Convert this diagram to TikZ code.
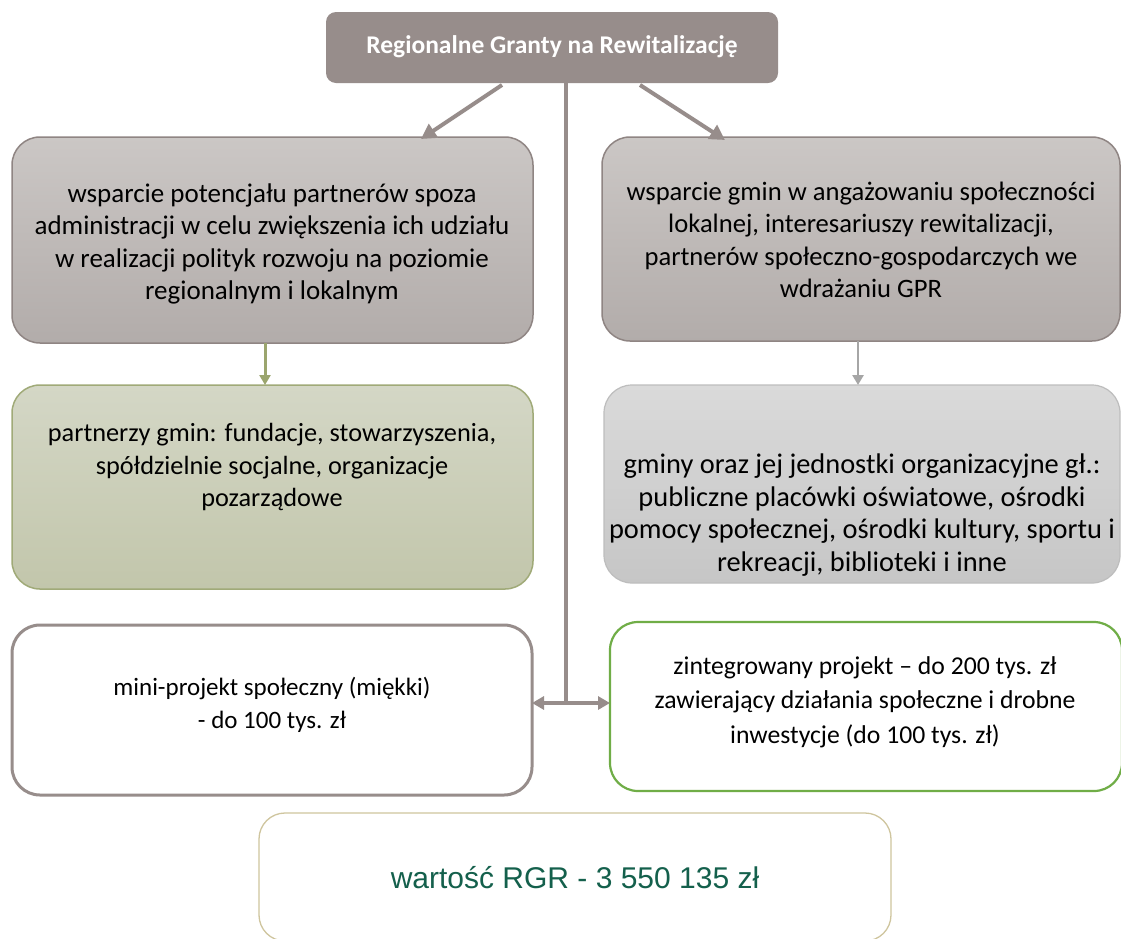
\documentclass[tikz,border=0pt]{standalone}
\usepackage{fontspec}
\setmainfont{Carlito}
\newfontfamily\valfont{Liberation Sans}
\usetikzlibrary{arrows.meta,calc}
\definecolor{topfill}{HTML}{978D8B}
\definecolor{grayedge}{HTML}{8F8583}
\definecolor{graytop}{HTML}{CBC7C5}
\definecolor{graybot}{HTML}{B2ACAA}
\definecolor{greentop}{HTML}{D4D7C6}
\definecolor{greenbot}{HTML}{C2C6AB}
\definecolor{greenedge}{HTML}{A0AA78}
\definecolor{lgtop}{HTML}{DADADA}
\definecolor{lgbot}{HTML}{C6C6C6}
\definecolor{lgedge}{HTML}{BDBDBD}
\definecolor{brightgreen}{HTML}{70AD47}
\definecolor{tanedge}{HTML}{CFC59E}
\definecolor{valgreen}{HTML}{14604C}
\definecolor{arrowgray}{HTML}{978D8B}
\definecolor{arrowolive}{HTML}{9BA56E}
\definecolor{arrowlight}{HTML}{A6A6A6}
\begin{document}
\begin{tikzpicture}[x=1pt,y=-1pt,
  shapebox/.style={rectangle,rounded corners=28pt,inner sep=0pt,outer sep=0pt},
  graybox/.style={shapebox,draw=grayedge,line width=1.5pt,top color=graytop,bottom color=graybot},
  greenbox/.style={shapebox,draw=greenedge,line width=1.5pt,top color=greentop,bottom color=greenbot},
  lightbox/.style={shapebox,draw=lgedge,line width=1.2pt,top color=lgtop,bottom color=lgbot},
  minibox/.style={shapebox,draw=arrowgray,line width=3pt,fill=white},
  intbox/.style={shapebox,draw=brightgreen,line width=2.2pt,fill=white},
  valbox/.style={shapebox,draw=tanedge,line width=1.3pt,fill=white,rounded corners=26pt},
  bodytext/.style={align=center,inner sep=0pt,font=\fontsize{#1}{32.5}\selectfont},
  bodytext/.default=27,
  mainarrow/.style={draw=arrowgray,line width=4pt,-{Triangle[length=15pt,width=16pt]}},
  dblarrow/.style={draw=arrowgray,line width=4pt,{Triangle[length=12pt,width=13pt]}-{Triangle[length=12pt,width=13pt]}},
  olivearrow/.style={draw=arrowolive,line width=3pt,-{Triangle[length=10pt,width=11pt]}},
  lightarrow/.style={draw=arrowlight,line width=2.5pt,-{Triangle[length=10pt,width=11pt]}}
]
\clip (0,0) rectangle (1121,938);
\fill[white] (0,0) rectangle (1121,938);

% boxes
\node[shapebox,fill=topfill,rounded corners=10pt,minimum width=452pt,minimum height=71pt] (top) at (552,47.5) {};
\node[graybox,minimum width=521pt,minimum height=206pt] (b1) at (272.5,240) {};
\node[graybox,minimum width=518pt,minimum height=204pt] (b2) at (861,239) {};
\node[greenbox,minimum width=521pt,minimum height=204pt] (g1) at (272.5,487) {};
\node[lightbox,minimum width=516pt,minimum height=198pt] (g2) at (862,484) {};
\node[minibox,minimum width=520pt,minimum height=170pt] (m1) at (272,710) {};
\node[intbox,minimum width=512pt,minimum height=169pt] (m2) at (866,706.5) {};
\node[valbox,minimum width=632pt,minimum height=128pt] (v) at (575,877) {};

% texts
\node[inner sep=0pt,text=white,font=\fontsize{25.5}{30}\selectfont\bfseries] (ttop) at (552,47) {Regionalne Granty na Rewitalizację};
\node[bodytext=27] (tb1) at (272,244) {wsparcie potencjału partnerów spoza\\administracji w celu zwiększenia ich udziału\\w realizacji polityk rozwoju na poziomie\\regionalnym i lokalnym};
\node[bodytext=26.6] (tb2) at (861,240) {wsparcie gmin w angażowaniu społeczności\\lokalnej, interesariuszy rewitalizacji,\\partnerów społeczno-gospodarczych we\\wdrażaniu GPR};
\node[bodytext=26.3] (tg1) at (272,467) {partnerzy gmin: fundacje, stowarzyszenia,\\spółdzielnie socjalne, organizacje\\pozarządowe};
\node[bodytext=28.4] (tg2) at (862,515) {gminy oraz jej jednostki organizacyjne gł.:\\publiczne placówki oświatowe, ośrodki\\pomocy społecznej, ośrodki kultury, sportu i\\rekreacji, biblioteki i inne};
\node[bodytext=25] (tm1) at (272,705) {mini-projekt społeczny (miękki)\\- do 100 tys. zł};
\node[align=center,inner sep=0pt,font=\fontsize{25.7}{34.5}\selectfont] (tm2) at (865,702) {zintegrowany projekt – do 200 tys. zł\\zawierający działania społeczne i drobne\\inwestycje (do 100 tys. zł)};
\node[inner sep=0pt,text=valgreen,font=\valfont\fontsize{30}{34}\selectfont] (tv) at (575,878) {wartość RGR - 3 550 135 zł};

% connectors
\draw[mainarrow] ([xshift=-50pt,yshift=-2pt]top.south) -- ([xshift=148.5pt,yshift=-2pt]b1.north);
\draw[mainarrow] ([xshift=88pt,yshift=-2pt]top.south) -- ([xshift=-136pt,yshift=-3pt]b2.north);
\coordinate (j) at (566,703);
\draw[draw=arrowgray,line width=4pt] ([xshift=14pt]top.south) -- (j);
\draw[dblarrow] (m1.east |- j) -- (m2.west |- j);
\draw[olivearrow] ([xshift=-7.5pt]b1.south) -- ([xshift=-7.5pt]g1.north);
\draw[lightarrow] ([xshift=-3pt]b2.south) -- ([xshift=-4pt]g2.north);
\end{tikzpicture}
\end{document}
